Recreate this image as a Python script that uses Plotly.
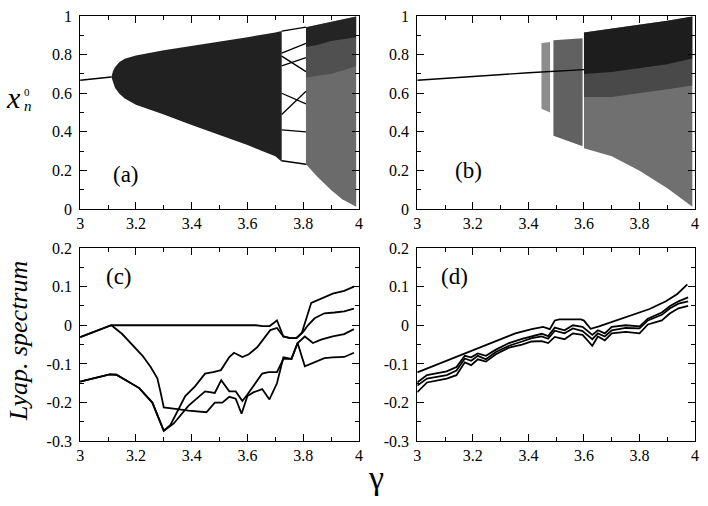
import plotly.graph_objects as go
from plotly.subplots import make_subplots

# ----------------------------
# Data
# ----------------------------
X_TICKS = [3.0, 3.2, 3.4, 3.6, 3.8, 4.0]
X_TICK_TEXT = ["3", "3.2", "3.4", "3.6", "3.8", "4"]
TOP_Y_TICKS = [0.0, 0.2, 0.4, 0.6, 0.8, 1.0]
TOP_Y_TICK_TEXT = ["0", "0.2", "0.4", "0.6", "0.8", "1"]
BOT_Y_TICKS = [-0.3, -0.2, -0.1, 0.0, 0.1, 0.2]
BOT_Y_TICK_TEXT = ["-0.3", "-0.2", "-0.1", "0", "0.1", "0.2"]

# (a) fixed point, torus, periodic window, chaos
FP_A_GAMMA = [3.0, 3.112]
FP_A_X = [0.667, 0.684]

TORUS_GAMMA = [3.112, 3.118, 3.125, 3.14, 3.16, 3.2, 3.3, 3.4, 3.5, 3.6, 3.7, 3.723]
TORUS_UPPER = [0.684, 0.715, 0.735, 0.76, 0.778, 0.795, 0.823, 0.845, 0.868, 0.89, 0.915, 0.922]
TORUS_LOWER = [0.684, 0.655, 0.628, 0.598, 0.572, 0.54, 0.49, 0.435, 0.382, 0.332, 0.273, 0.245]

WINDOW_GAMMA = [3.723, 3.81]
WINDOW_START = [0.922, 0.808, 0.792, 0.742, 0.600, 0.490, 0.410, 0.250]
WINDOW_END = [0.942, 0.858, 0.712, 0.785, 0.545, 0.610, 0.400, 0.232]

CHAOS_A_GAMMA = [3.81, 3.85, 3.9, 3.94, 3.99]
CHAOS_A_UPPER = [0.942, 0.955, 0.97, 0.983, 0.998]
CHAOS_A_DENSE = [0.84, 0.85, 0.87, 0.88, 0.89]
CHAOS_A_MID = [0.68, 0.69, 0.70, 0.72, 0.74]
CHAOS_A_LOWER = [0.232, 0.168, 0.098, 0.05, 0.012]

# (b) fixed point, intermittent streaks, chaos
FP_B_GAMMA = [3.0, 3.2, 3.4, 3.6]
FP_B_X = [0.667, 0.688, 0.706, 0.722]

STREAK1_GAMMA = [3.447, 3.478]
STREAK1_UPPER = [0.86, 0.865]
STREAK1_LOWER = [0.52, 0.50]

STREAK2_GAMMA = [3.49, 3.595]
STREAK2_UPPER = [0.875, 0.885]
STREAK2_LOWER = [0.38, 0.325]

CHAOS_B_GAMMA = [3.6, 3.7, 3.8, 3.9, 3.99]
CHAOS_B_UPPER = [0.915, 0.935, 0.955, 0.975, 0.997]
CHAOS_B_DENSE = [0.70, 0.71, 0.73, 0.75, 0.78]
CHAOS_B_MID = [0.58, 0.58, 0.60, 0.62, 0.64]
CHAOS_B_LOWER = [0.315, 0.273, 0.198, 0.107, 0.012]

# (c) Lyapunov spectrum
C_GAMMA_1 = [3.0, 3.112, 3.63, 3.655, 3.68, 3.706, 3.729, 3.753, 3.776, 3.795,
             3.829, 3.864, 3.906, 3.947, 3.982]
C_LYAP_1 = [-0.031, 0.0, 0.0, -0.002, -0.002, 0.0125, -0.029, -0.033, -0.033, -0.02,
            0.058, 0.068, 0.082, 0.089, 0.100]

C_GAMMA_2 = [3.0, 3.112, 3.15, 3.177, 3.2, 3.224, 3.253, 3.277, 3.289, 3.30, 3.342,
             3.389, 3.453, 3.483, 3.51, 3.535, 3.558, 3.579, 3.6, 3.623, 3.653, 3.679,
             3.706, 3.729, 3.758, 3.78, 3.806, 3.841, 3.876, 3.906, 3.947, 3.982]
C_LYAP_2 = [-0.031, 0.0, -0.022, -0.042, -0.06, -0.079, -0.108, -0.1375, -0.175, -0.2125,
            -0.216, -0.221, -0.225, -0.2, -0.2, -0.185, -0.19, -0.229, -0.183, -0.173,
            -0.165, -0.192, -0.150, -0.083, -0.087, -0.046, -0.106, -0.096, -0.085,
            -0.083, -0.082, -0.071]

C_GAMMA_3 = [3.0, 3.106, 3.13, 3.212, 3.259, 3.30, 3.324, 3.377, 3.412, 3.448, 3.477,
             3.505, 3.535, 3.552, 3.582, 3.605, 3.635, 3.659, 3.682, 3.706, 3.729,
             3.753, 3.776, 3.8, 3.817, 3.841, 3.876, 3.912, 3.947, 3.982]
C_LYAP_3 = [-0.146, -0.127, -0.128, -0.1625, -0.2, -0.273, -0.258, -0.183, -0.158,
            -0.125, -0.121, -0.116, -0.082, -0.071, -0.082, -0.075, -0.057, -0.033,
            -0.0125, -0.007, -0.029, -0.033, -0.033, -0.017, 0.0, 0.018, 0.031, 0.033,
            0.036, 0.043]

C_GAMMA_4 = [3.0, 3.106, 3.13, 3.212, 3.259, 3.30, 3.336, 3.389, 3.448, 3.483, 3.506,
             3.535, 3.558, 3.582, 3.6, 3.629, 3.653, 3.676, 3.706, 3.729, 3.758, 3.78,
             3.806, 3.835, 3.864, 3.906, 3.947, 3.982]
C_LYAP_4 = [-0.146, -0.127, -0.128, -0.1625, -0.2, -0.273, -0.254, -0.208, -0.171,
            -0.175, -0.142, -0.171, -0.171, -0.196, -0.179, -0.150, -0.125, -0.121,
            -0.121, -0.087, -0.087, -0.046, -0.029, -0.046, -0.037, -0.029, -0.023,
            -0.010]

# (d) Lyapunov spectrum
D_GAMMA_1 = [3.0, 3.177, 3.236, 3.294, 3.353, 3.412, 3.453, 3.477, 3.495, 3.512, 3.589,
             3.6, 3.624, 3.654, 3.718, 3.777, 3.836, 3.895, 3.936, 3.972]
D_LYAP_1 = [-0.122, -0.071, -0.054, -0.037, -0.021, -0.010, -0.004, -0.010, 0.0125,
            0.015, 0.015, 0.012, -0.009, -0.003, 0.0125, 0.027, 0.042, 0.062, 0.081,
            0.106]

D_GAMMA_LOW = [3.0, 3.035, 3.106, 3.141, 3.171, 3.194, 3.218, 3.247, 3.283, 3.33,
               3.377, 3.412, 3.448, 3.471, 3.495, 3.53, 3.56, 3.595, 3.63, 3.65, 3.675,
               3.70, 3.75, 3.80, 3.83, 3.88, 3.91, 3.94, 3.975]
D_LYAP_2 = [-0.148, -0.129, -0.119, -0.108, -0.079, -0.083, -0.073, -0.079, -0.063,
            -0.046, -0.035, -0.028, -0.022, -0.028, -0.006, -0.013, 0.0, -0.004, -0.025,
            -0.013, -0.021, -0.004, 0.0, -0.003, 0.017, 0.033, 0.050, 0.062, 0.072]
D_LYAP_3 = [-0.156, -0.138, -0.129, -0.117, -0.086, -0.092, -0.079, -0.088, -0.069,
            -0.053, -0.042, -0.033, -0.029, -0.035, -0.014, -0.021, -0.008, -0.015,
            -0.036, -0.021, -0.029, -0.013, -0.007, -0.008, 0.0125, 0.027, 0.044, 0.056,
            0.062]
D_LYAP_4 = [-0.173, -0.148, -0.138, -0.129, -0.096, -0.103, -0.088, -0.094, -0.075,
            -0.058, -0.050, -0.042, -0.041, -0.046, -0.030, -0.036, -0.021, -0.025,
            -0.053, -0.029, -0.039, -0.021, -0.017, -0.021, 0.002, 0.0125, 0.031, 0.044,
            0.050]

FONT = "'Liberation Serif', 'Times New Roman', Times, 'DejaVu Serif', serif"

fig = make_subplots(rows=2, cols=2)


def band(gamma, upper, lower, color, row, col):
    # filled region between two envelopes
    fig.add_trace(
        go.Scatter(
            x=list(gamma) + list(gamma)[::-1],
            y=list(upper) + list(lower)[::-1],
            mode="lines", fill="toself", fillcolor=color,
            line=dict(width=0), hoverinfo="skip", showlegend=False,
        ),
        row=row, col=col,
    )


def curve(gamma, values, row, col, width=1.8):
    fig.add_trace(
        go.Scatter(
            x=gamma, y=values, mode="lines",
            line=dict(color="black", width=width),
            hoverinfo="skip", showlegend=False,
        ),
        row=row, col=col,
    )


# ----------------------------
# (a) bifurcation diagram
# ----------------------------
curve(FP_A_GAMMA, FP_A_X, 1, 1, 1.4)
band(TORUS_GAMMA, TORUS_UPPER, TORUS_LOWER, "rgba(0,0,0,0.87)", 1, 1)
for y0, y1 in zip(WINDOW_START, WINDOW_END):
    curve(WINDOW_GAMMA, [y0, y1], 1, 1, 1.3)
band(CHAOS_A_GAMMA, CHAOS_A_UPPER, CHAOS_A_LOWER, "rgba(0,0,0,0.58)", 1, 1)
band(CHAOS_A_GAMMA, CHAOS_A_UPPER, CHAOS_A_MID, "rgba(0,0,0,0.25)", 1, 1)
band(CHAOS_A_GAMMA, CHAOS_A_UPPER, CHAOS_A_DENSE, "rgba(0,0,0,0.55)", 1, 1)

# ----------------------------
# (b) bifurcation diagram
# ----------------------------
curve(FP_B_GAMMA, FP_B_X, 1, 2, 1.4)
band(STREAK1_GAMMA, STREAK1_UPPER, STREAK1_LOWER, "rgba(0,0,0,0.45)", 1, 2)
band(STREAK2_GAMMA, STREAK2_UPPER, STREAK2_LOWER, "rgba(0,0,0,0.62)", 1, 2)
band(CHAOS_B_GAMMA, CHAOS_B_UPPER, CHAOS_B_LOWER, "rgba(0,0,0,0.56)", 1, 2)
band(CHAOS_B_GAMMA, CHAOS_B_UPPER, CHAOS_B_MID, "rgba(0,0,0,0.35)", 1, 2)
band(CHAOS_B_GAMMA, CHAOS_B_UPPER, CHAOS_B_DENSE, "rgba(0,0,0,0.6)", 1, 2)

# ----------------------------
# (c), (d) Lyapunov spectra
# ----------------------------
for r, c in [(2, 1), (2, 2)]:
    fig.add_hline(y=0, line=dict(color="black", width=1, dash="6px,4px"), row=r, col=c)

curve(C_GAMMA_1, C_LYAP_1, 2, 1)
curve(C_GAMMA_2, C_LYAP_2, 2, 1)
curve(C_GAMMA_3, C_LYAP_3, 2, 1)
curve(C_GAMMA_4, C_LYAP_4, 2, 1)

curve(D_GAMMA_1, D_LYAP_1, 2, 2)
curve(D_GAMMA_LOW, D_LYAP_2, 2, 2)
curve(D_GAMMA_LOW, D_LYAP_3, 2, 2)
curve(D_GAMMA_LOW, D_LYAP_4, 2, 2)

# ----------------------------
# Axes
# ----------------------------
tick_font = dict(family=FONT, size=16, color="black")
axis_common = dict(
    showline=True, linecolor="black", linewidth=1, mirror="ticks",
    ticks="inside", ticklen=7, tickwidth=1, tickcolor="black",
    showgrid=False, zeroline=False, tickfont=tick_font,
    ticklabeloverflow="allow",
)

left_dom = [77 / 708, 359 / 708]
right_dom = [418 / 708, 699 / 708]
top_dom = [1 - 208 / 506, 1 - 8.3 / 506]
bot_dom = [1 - 448.3 / 506, 1 - 248.3 / 506]

for name, dom in [("xaxis", left_dom), ("xaxis2", right_dom), ("xaxis3", left_dom), ("xaxis4", right_dom)]:
    fig.layout[name].update(
        domain=dom, range=[3, 4], tickmode="array", tickvals=X_TICKS, ticktext=X_TICK_TEXT,
        minor=dict(ticks="inside", ticklen=4, tickcolor="black", tick0=3, dtick=0.1),
        **axis_common,
    )

for name in ["yaxis", "yaxis2"]:
    fig.layout[name].update(
        domain=top_dom, range=[0, 1], tickmode="array",
        tickvals=TOP_Y_TICKS, ticktext=TOP_Y_TICK_TEXT,
        minor=dict(ticks="inside", ticklen=4, tickcolor="black", tick0=0, dtick=0.1),
        ticklabelstandoff=4,
        **axis_common,
    )

for name in ["yaxis3", "yaxis4"]:
    fig.layout[name].update(
        domain=bot_dom, range=[-0.3, 0.2], tickmode="array",
        tickvals=BOT_Y_TICKS, ticktext=BOT_Y_TICK_TEXT,
        minor=dict(ticks="inside", ticklen=4, tickcolor="black", tick0=0, dtick=0.05),
        ticklabelstandoff=4,
        **axis_common,
    )

# ----------------------------
# Labels
# ----------------------------
label_font = dict(family=FONT, size=23, color="black")
for text, xr, yr, x, y in [
    ("(a)", "x", "y", 3.164, 0.18),
    ("(b)", "x2", "y2", 3.184, 0.2),
    ("(c)", "x3", "y3", 3.141, 0.126),
    ("(d)", "x4", "y4", 3.133, 0.126),
]:
    fig.add_annotation(text=text, xref=xr, yref=yr, x=x, y=y, showarrow=False,
                       font=label_font, xanchor="center", yanchor="middle")


def paper_text(text, px, py, size, angle=0, xanchor="center"):
    fig.add_annotation(text=text, xref="paper", yref="paper", x=px / 708, y=1 - py / 506,
                       showarrow=False, textangle=angle, xanchor=xanchor, yanchor="middle",
                       borderpad=0, font=dict(family=FONT, size=size, color="black"))


paper_text("<i>x</i>", 18, 93, 30, xanchor="right")
paper_text("0", 19.5, 86.5, 11, xanchor="left")
paper_text("<i>n</i>", 19, 101, 15, xanchor="left")
paper_text("<i>Lyap. spectrum</i>", 15, 344, 26, -90)
paper_text("γ", 376, 486, 34)

fig.update_layout(
    width=708, height=506,
    margin=dict(l=0, r=0, t=0, b=0),
    paper_bgcolor="white", plot_bgcolor="white",
    showlegend=False,
)

# page body margin would push the fixed-size figure off the window
fig.write_html("out.html", config={"displayModeBar": False},
               post_script="document.body.style.margin='0';")
